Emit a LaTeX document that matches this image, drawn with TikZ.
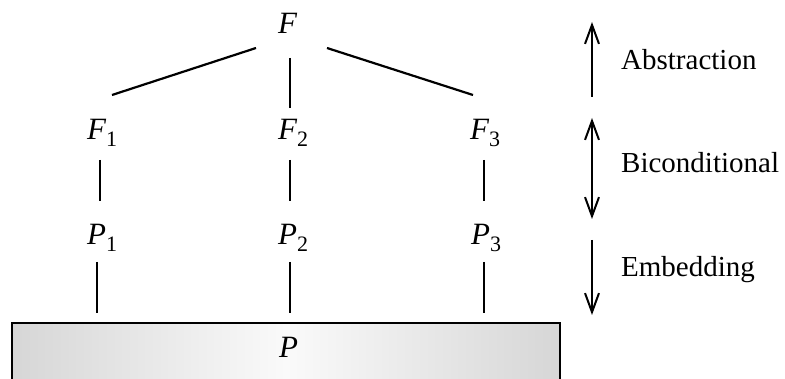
\documentclass[tikz,border=0pt]{standalone}
\usepackage{fontspec}
\setmainfont{Liberation Serif}
\usetikzlibrary{arrows.meta}
\newcommand\mysbs[1]{\raisebox{-0.2em}{\fontsize{22}{22}\selectfont #1}}
\begin{document}
\begin{tikzpicture}[x=1pt,y=-1pt,
  lbl/.style={inner sep=0pt,font=\fontsize{29}{34}\selectfont},
  sym/.style={inner sep=0pt,anchor=base west,font=\fontsize{31}{34}\selectfont\itshape},
  conn/.style={line width=2.2pt},
  barb/.tip={Straight Barb[length=19pt,width=14pt,line width=2pt]},
  arr/.style={line width=2.2pt}]
\useasboundingbox (0,0) rectangle (785,379);
% box
\draw[line width=1.6pt,left color=black!16,right color=black!16,middle color=black!2]
  (12,323) rectangle (560,395);
\node[sym] (P) at (279,358) {P};
% nodes
\node[sym] (F) at (278,34) {F};
\node[sym] (F1) at (87,140) {F\upshape\mysbs{1}};
\node[sym] (F2) at (278,140) {F\upshape\mysbs{2}};
\node[sym] (F3) at (470,140) {F\upshape\mysbs{3}};
\node[sym] (P1) at (87,245) {P\upshape\mysbs{1}};
\node[sym] (P2) at (278,245) {P\upshape\mysbs{2}};
\node[sym] (P3) at (471,245) {P\upshape\mysbs{3}};
% connector end points
\coordinate (fa) at (256,48); \coordinate (f1a) at (112,95);
\coordinate (fb) at (290,58); \coordinate (f2a) at (290,108);
\coordinate (fc) at (327,48); \coordinate (f3a) at (473,95);
\draw[conn] (fa) -- (f1a);
\draw[conn] (fb) -- (f2a);
\draw[conn] (fc) -- (f3a);
\coordinate (f1b) at (100,160); \coordinate (p1a) at (100,201);
\coordinate (f2b) at (290,160); \coordinate (p2a) at (290,201);
\coordinate (f3b) at (484,160); \coordinate (p3a) at (484,201);
\draw[conn] (f1b) -- (p1a);
\draw[conn] (f2b) -- (p2a);
\draw[conn] (f3b) -- (p3a);
\coordinate (p1b) at (97,262); \coordinate (b1) at (97,313);
\coordinate (p2b) at (290,262); \coordinate (b2) at (290,313);
\coordinate (p3b) at (484,262); \coordinate (b3) at (484,313);
\draw[conn] (p1b) -- (b1);
\draw[conn] (p2b) -- (b2);
\draw[conn] (p3b) -- (b3);
% side arrows
\coordinate (a1) at (592,97); \coordinate (a2) at (592,22);
\coordinate (b1s) at (592,118); \coordinate (b2s) at (592,219);
\coordinate (c1) at (592,240); \coordinate (c2) at (592,315);
\draw[arr,-barb] (a1) -- (a2);
\draw[arr,barb-barb] (b1s) -- (b2s);
\draw[arr,-barb] (c1) -- (c2);
\node[lbl,anchor=base west] (abs) at (621,70) {Abstraction};
\node[lbl,anchor=base west] (bic) at (621,173) {Biconditional};
\node[lbl,anchor=base west] (emb) at (621,277) {Embedding};
\end{tikzpicture}
\end{document}
